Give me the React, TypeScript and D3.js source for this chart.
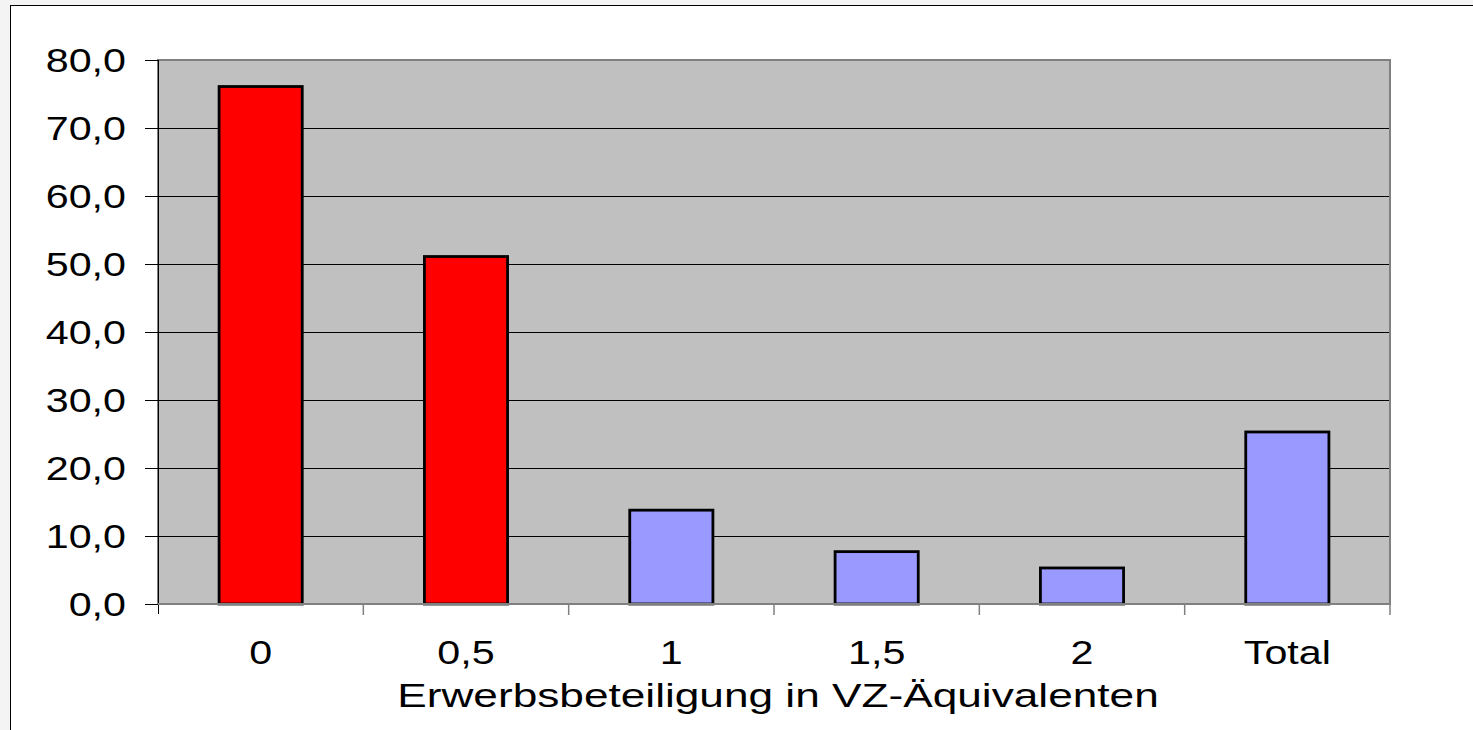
import React from "react";
import * as d3 from "d3";

// Anteil je Erwerbsbeteiligung (VZ-Äquivalente)
const categories = ["0", "0,5", "1", "1,5", "2", "Total"];
const values = [76.1, 51.1, 13.8, 7.7, 5.3, 25.3];
const barColors = ["#FF0000", "#FF0000", "#9999FF", "#9999FF", "#9999FF", "#9999FF"];
const yTicks = [0, 10, 20, 30, 40, 50, 60, 70, 80];
const xTitle = "Erwerbsbeteiligung in VZ-Äquivalenten";

const W = 1473;
const H = 730;
const margin = { top: 60, right: 83, bottom: 126, left: 158 };
const FONT = "'Liberation Sans', Arial, sans-serif";
const STRETCH = 1.25; // text in the picture is wider than normal Arial

const fmt = (v: number) => v.toFixed(1).replace(".", ",");

export default function App() {
  const innerW = W - margin.left - margin.right;
  const innerH = H - margin.top - margin.bottom;

  const x = d3
    .scaleBand<string>()
    .domain(categories)
    .range([0, innerW])
    .paddingInner(0.595)
    .paddingOuter(0.2975);
  const y = d3.scaleLinear().domain([0, 80]).range([innerH, 0]);

  const step = x.step();
  // tick marks sit on the borders between categories
  const boundaries = d3.range(categories.length + 1).map((i) => i * step);

  return (
    <svg
      width={W}
      height={H}
      style={{ position: "fixed", left: 0, top: 0, display: "block" }}
    >
      <rect width={W} height={H} fill="#f4f4f4" />
      <rect x={10.5} y={5.5} width={W} height={H} fill="#ffffff" stroke="#000" strokeWidth={1} />

      <g transform={`translate(${margin.left},${margin.top})`}>
        <rect width={innerW} height={innerH} fill="#C0C0C0" />

        {/* gridlines */}
        {yTicks
          .filter((t) => t > 0 && t < 80)
          .map((t) => (
            <line
              key={"g" + t}
              x1={0}
              x2={innerW}
              y1={Math.round(y(t)) + 0.5}
              y2={Math.round(y(t)) + 0.5}
              stroke="#000"
              strokeWidth={1}
            />
          ))}

        {/* plot border */}
        <rect width={innerW} height={innerH} fill="none" stroke="#808080" strokeWidth={2} />

        {/* bars */}
        {values.map((v, i) => (
          <rect
            key={categories[i]}
            x={x(categories[i])}
            y={y(v)}
            width={x.bandwidth()}
            height={innerH - y(v)}
            fill={barColors[i]}
            stroke="#000"
            strokeWidth={2.8}
          />
        ))}

        {/* y axis */}
        <line x1={0.5} x2={0.5} y1={0} y2={innerH + 10} stroke="#000" strokeWidth={1} />
        {yTicks.map((t) => (
          <g key={"y" + t} transform={`translate(0,${Math.round(y(t)) + 0.5})`}>
            <line x1={-13} x2={0} stroke="#000" strokeWidth={1} />
            <text
              transform={`translate(-32,11) scale(${STRETCH},1)`}
              textAnchor="end"
              fontFamily={FONT}
              fontSize={33}
              fill="#000"
            >
              {fmt(t)}
            </text>
          </g>
        ))}

        {/* x axis */}
        <line x1={0} x2={innerW} y1={innerH} y2={innerH} stroke="#808080" strokeWidth={2} />
        {boundaries.slice(1).map((b, i) => (
          <line
            key={"xt" + i}
            x1={b}
            x2={b}
            y1={innerH}
            y2={innerH + 11}
            stroke="#808080"
            strokeWidth={1.5}
          />
        ))}
        {categories.map((c) => (
          <text
            key={"xl" + c}
            transform={`translate(${(x(c) ?? 0) + x.bandwidth() / 2},${innerH + 60}) scale(${STRETCH},1)`}
            textAnchor="middle"
            fontFamily={FONT}
            fontSize={33}
            fill="#000"
          >
            {c}
          </text>
        ))}
        <text
          transform={`translate(${innerW / 2 + 4},${innerH + 103}) scale(1.3,1)`}
          textAnchor="middle"
          fontFamily={FONT}
          fontSize={34}
          fill="#000"
        >
          {xTitle}
        </text>
      </g>
    </svg>
  );
}
